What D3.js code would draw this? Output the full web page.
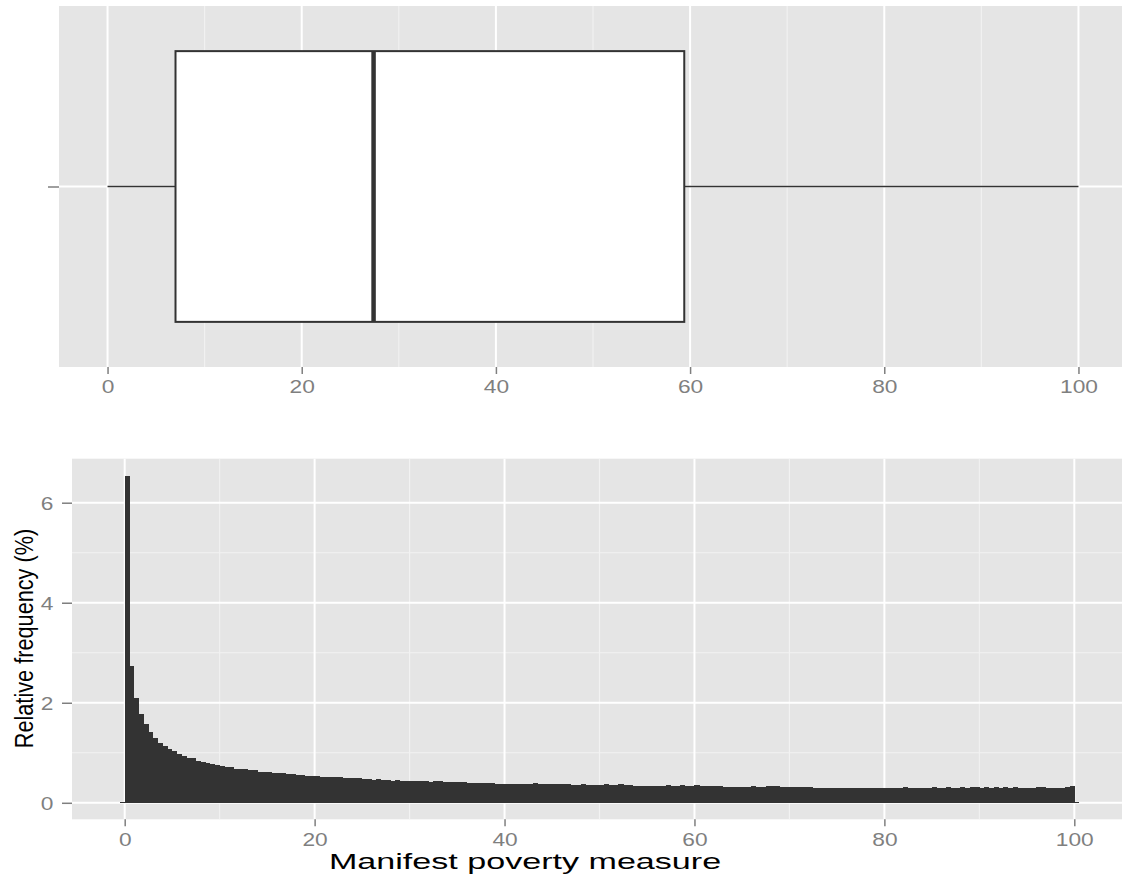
<!DOCTYPE html>
<html>
<head>
<meta charset="utf-8">
<script src="https://cdn.jsdelivr.net/npm/d3@7"></script>
<style>
    body { margin: 0; background: #fff; }
    svg { display: block; font-family: "Liberation Sans", Arial, Helvetica, sans-serif; }
</style>
</head>
<body>
<div id="chart"></div>
<script>
// Boxplot summary: lower whisker, Q1, median, Q3, upper whisker.
const boxValues = [0, 7.0, 27.4, 59.4, 100];

// Histogram: bins of width 0.5 starting at -0.5, relative frequency in %.
const binStart = -0.5;
const binWidth = 0.5;
const relFreq = [
    0,
    6.53, 2.74, 2.10, 1.78, 1.58, 1.42, 1.30, 1.20, 1.14, 1.08,
    1.04, 0.98, 0.94, 0.90, 0.90, 0.84, 0.82, 0.80, 0.78, 0.76,
    0.74, 0.72, 0.72, 0.68, 0.68, 0.68, 0.66, 0.66, 0.62, 0.62,
    0.62, 0.60, 0.60, 0.60, 0.58, 0.58, 0.56, 0.56, 0.54, 0.54,
    0.54, 0.52, 0.52, 0.52, 0.52, 0.52, 0.50, 0.50, 0.50, 0.50,
    0.48, 0.48, 0.46, 0.48, 0.46, 0.46, 0.44, 0.46, 0.44, 0.44,
    0.44, 0.44, 0.44, 0.44, 0.42, 0.44, 0.44, 0.42, 0.42, 0.42,
    0.42, 0.42, 0.40, 0.40, 0.40, 0.40, 0.40, 0.40, 0.38, 0.38,
    0.38, 0.38, 0.38, 0.38, 0.38, 0.38, 0.40, 0.38, 0.38, 0.38,
    0.38, 0.38, 0.38, 0.38, 0.36, 0.36, 0.38, 0.36, 0.36, 0.36,
    0.36, 0.38, 0.36, 0.36, 0.38, 0.36, 0.36, 0.34, 0.34, 0.34,
    0.34, 0.34, 0.34, 0.34, 0.36, 0.34, 0.34, 0.36, 0.34, 0.34,
    0.36, 0.33, 0.33, 0.33, 0.33, 0.34, 0.32, 0.32, 0.32, 0.32,
    0.32, 0.32, 0.34, 0.32, 0.32, 0.34, 0.34, 0.34, 0.32, 0.32,
    0.31, 0.31, 0.31, 0.31, 0.31, 0.30, 0.30, 0.30, 0.30, 0.30,
    0.30, 0.30, 0.30, 0.30, 0.30, 0.30, 0.30, 0.30, 0.30, 0.30,
    0.30, 0.30, 0.30, 0.30, 0.32, 0.30, 0.30, 0.30, 0.30, 0.30,
    0.32, 0.30, 0.30, 0.32, 0.30, 0.30, 0.32, 0.30, 0.32, 0.31,
    0.29, 0.31, 0.29, 0.31, 0.29, 0.31, 0.29, 0.31, 0.29, 0.29,
    0.29, 0.29, 0.31, 0.31, 0.29, 0.29, 0.29, 0.29, 0.31, 0.33,
    0
];

const xTicks = [0, 20, 40, 60, 80, 100];
const xMinor = [10, 30, 50, 70, 90];
const yTicks = [0, 2, 4, 6];
const yMinor = [1, 3, 5];
const xTitle = 'Manifest poverty measure';
const yTitle = 'Relative frequency (%)';

const width = 1122;
const height = 878;
// The reference is stretched horizontally, so text gets a scaleX.
const tickStretch = 1.3;

const svg = d3.select('#chart')
    .append('svg')
        .attr('width', width)
        .attr('height', height);

const topPanel = {left: 59, right: 1127, top: 6, bottom: 367};
const botPanel = {left: 72, right: 1127, top: 458.7, bottom: 819.3};

// Scales.
const xTop = d3.scaleLinear().domain([-5, 105]).range([topPanel.left, topPanel.right]);
const yTop = d3.scaleLinear().domain([0.5, 1.5]).range([topPanel.bottom, topPanel.top]);
const xBot = d3.scaleLinear().domain([-5.55, 105.55]).range([botPanel.left, botPanel.right]);
const yBot = d3.scaleLinear().domain([-0.33, 6.88]).range([botPanel.bottom, botPanel.top]);

function drawPanel(p, x, y, vMinor, hMinor, hMajor) {
    const g = svg.append('g');
    g.append('rect')
        .attr('x', p.left).attr('y', p.top)
        .attr('width', p.right - p.left).attr('height', p.bottom - p.top)
        .attr('fill', '#e5e5e5');
    g.selectAll('.vminor').data(vMinor).enter().append('line')
        .attr('x1', d => x(d)).attr('x2', d => x(d))
        .attr('y1', p.top).attr('y2', p.bottom)
        .attr('stroke', '#f2f2f2').attr('stroke-width', 1.1);
    g.selectAll('.hminor').data(hMinor).enter().append('line')
        .attr('x1', p.left).attr('x2', p.right)
        .attr('y1', d => y(d)).attr('y2', d => y(d))
        .attr('stroke', '#f2f2f2').attr('stroke-width', 1.1);
    g.selectAll('.vmajor').data(xTicks).enter().append('line')
        .attr('x1', d => x(d)).attr('x2', d => x(d))
        .attr('y1', p.top).attr('y2', p.bottom)
        .attr('stroke', '#fff').attr('stroke-width', 2);
    g.selectAll('.hmajor').data(hMajor).enter().append('line')
        .attr('x1', p.left).attr('x2', p.right)
        .attr('y1', d => y(d)).attr('y2', d => y(d))
        .attr('stroke', '#fff').attr('stroke-width', 2);
}

drawPanel(topPanel, xTop, yTop, xMinor, [], [1]);
drawPanel(botPanel, xBot, yBot, xMinor, yMinor, yTicks);

// Box plot.
const [lo, q1, med, q3, hi] = boxValues;
const boxG = svg.append('g');
boxG.append('line')
    .attr('x1', xTop(lo)).attr('x2', xTop(q1))
    .attr('y1', yTop(1)).attr('y2', yTop(1))
    .attr('stroke', '#333').attr('stroke-width', 1.5);
boxG.append('line')
    .attr('x1', xTop(q3)).attr('x2', xTop(hi))
    .attr('y1', yTop(1)).attr('y2', yTop(1))
    .attr('stroke', '#333').attr('stroke-width', 1.5);
boxG.append('rect')
    .attr('x', xTop(q1)).attr('y', yTop(1.375))
    .attr('width', xTop(q3) - xTop(q1))
    .attr('height', yTop(0.625) - yTop(1.375))
    .attr('fill', '#fff').attr('stroke', '#333').attr('stroke-width', 2);
boxG.append('line')
    .attr('x1', xTop(med)).attr('x2', xTop(med))
    .attr('y1', yTop(1.375)).attr('y2', yTop(0.625))
    .attr('stroke', '#333').attr('stroke-width', 4.5);

// Histogram bars.
const bins = relFreq.map((v, i) => ({x0: binStart + i * binWidth, x1: binStart + (i + 1) * binWidth, value: v}));
svg.append('g')
    .selectAll('rect')
    .data(bins)
    .enter()
    .append('rect')
        .attr('x', d => xBot(d.x0))
        .attr('width', d => xBot(d.x1) - xBot(d.x0) + 0.3)
        .attr('y', d => d.value > 0 ? yBot(d.value) : yBot(0) - 0.6)
        .attr('height', d => d.value > 0 ? yBot(0) - yBot(d.value) : 1.2)
        .attr('fill', '#333333')
        .attr('shape-rendering', 'crispEdges');

// Axes.
function styleAxis(g) {
    g.select('.domain').remove();
    g.selectAll('.tick line').attr('stroke', '#7f7f7f').attr('stroke-width', 1.5);
    g.selectAll('.tick text')
        .attr('fill', '#7f7f7f')
        .style('font-size', '17.5px')
        .style('font-family', '"Liberation Sans", Arial, sans-serif');
}

svg.append('g')
    .attr('transform', `translate(0,${topPanel.bottom})`)
    .call(d3.axisBottom(xTop).tickValues(xTicks).tickSize(7).tickSizeOuter(0))
    .call(styleAxis)
    .call(g => g.selectAll('.tick text').attr('y', 26).attr('dy', 0)
        .attr('transform', `scale(${tickStretch},1)`));

svg.append('g')
    .attr('transform', `translate(${topPanel.left},0)`)
    .call(d3.axisLeft(yTop).tickValues([1]).tickSize(11).tickFormat(''))
    .call(styleAxis);

svg.append('g')
    .attr('transform', `translate(0,${botPanel.bottom})`)
    .call(d3.axisBottom(xBot).tickValues(xTicks).tickSize(7).tickSizeOuter(0))
    .call(styleAxis)
    .call(g => g.selectAll('.tick text').attr('y', 27).attr('dy', 0)
        .attr('transform', `scale(${tickStretch},1)`));

svg.append('g')
    .attr('transform', `translate(${botPanel.left},0)`)
    .call(d3.axisLeft(yBot).tickValues(yTicks).tickSize(10).tickSizeOuter(0))
    .call(styleAxis)
    .call(g => g.selectAll('.tick text').attr('x', -18.7 / tickStretch).attr('dy', '0.36em')
        .attr('transform', `scale(${tickStretch},1)`));

// Axis titles.
svg.append('text')
    .attr('transform', 'translate(525,869) scale(1.55,1)')
    .attr('text-anchor', 'middle')
    .style('font-size', '22px')
    .attr('fill', '#000')
    .text(xTitle);

svg.append('text')
    .attr('transform', 'translate(33,638.5) scale(1.16,1) rotate(-90)')
    .attr('text-anchor', 'middle')
    .style('font-size', '21.7px')
    .attr('fill', '#000')
    .text(yTitle);
</script>
</body>
</html>
